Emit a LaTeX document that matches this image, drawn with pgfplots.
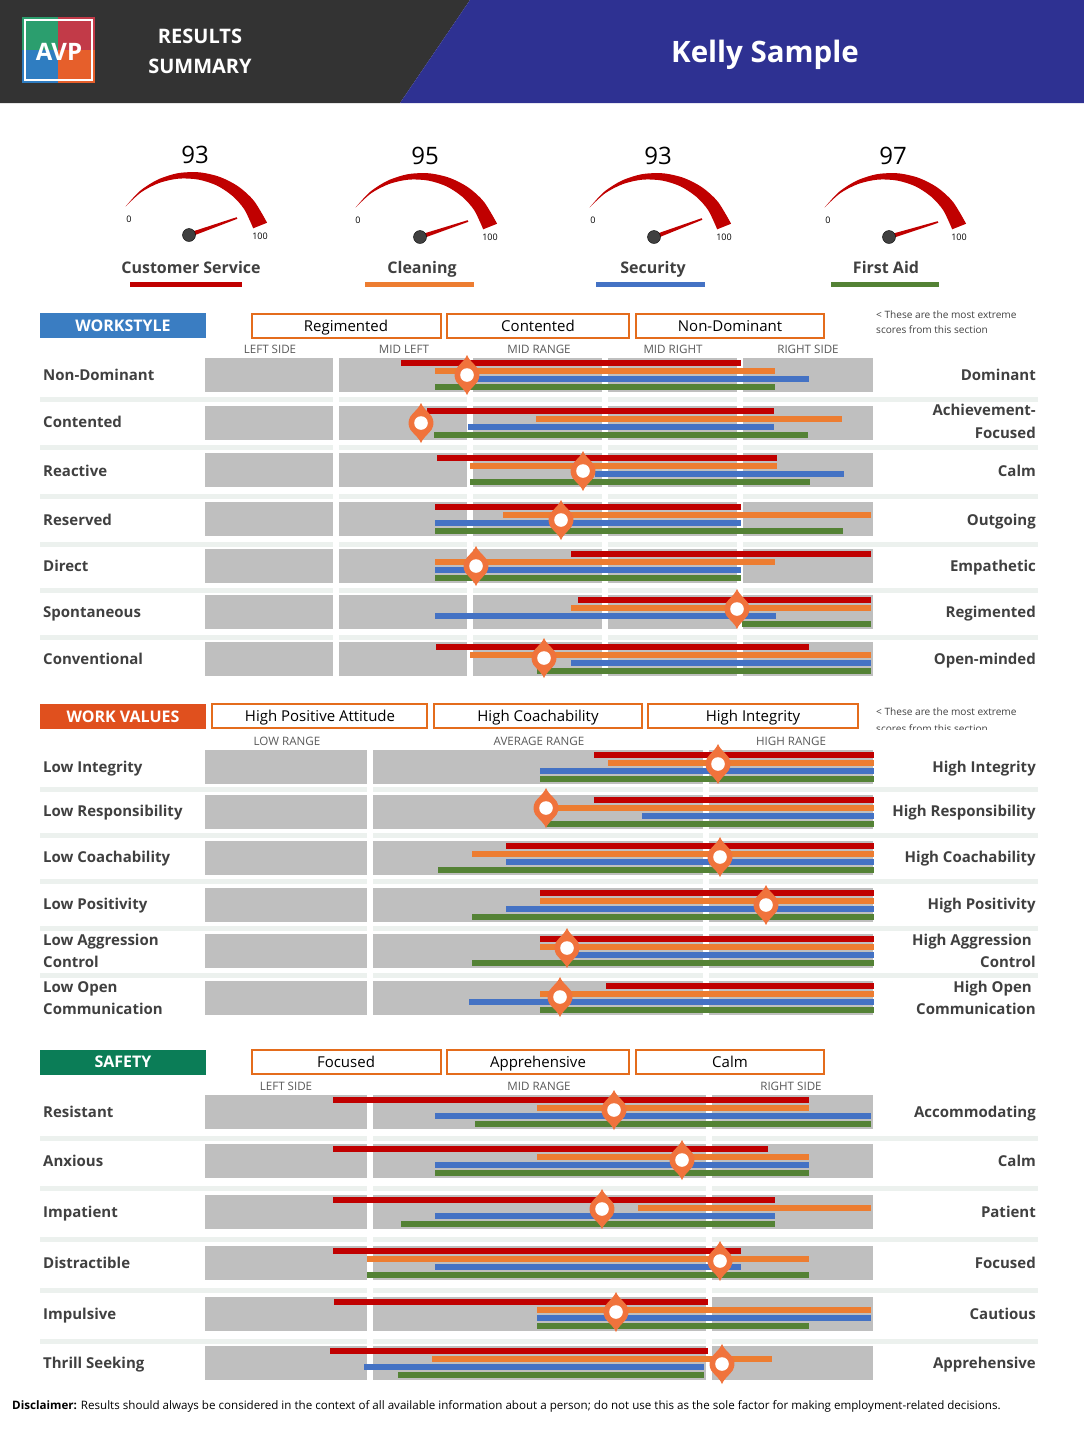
\documentclass[border=0pt]{standalone}
\usepackage{fontspec}
\setmainfont{Open Sans}
\usepackage{pgfplots}
\pgfplotsset{compat=1.18}
\usepackage{pgfplotstable}
\usepgfplotslibrary{fillbetween}
\definecolor{cR}{RGB}{192,0,0}
\definecolor{cO}{RGB}{237,125,49}
\definecolor{cB}{RGB}{68,114,196}
\definecolor{cG}{RGB}{84,130,53}
\definecolor{grayrect}{RGB}{191,191,191}
\definecolor{band}{RGB}{236,241,238}
\definecolor{pinc}{RGB}{240,115,60}
\definecolor{txt}{RGB}{64,64,64}
\definecolor{rng}{RGB}{89,89,89}
\definecolor{boxor}{RGB}{228,108,28}
\definecolor{hdr}{RGB}{51,51,51}
\definecolor{hblue}{RGB}{46,49,146}
\definecolor{secB}{RGB}{58,125,194}
\definecolor{secO}{RGB}{224,80,30}
\definecolor{secG}{RGB}{11,125,87}
\definecolor{hub}{RGB}{64,64,64}
\newcommand{\fs}[1]{\fontsize{#1bp}{#1bp}\selectfont}
\newcommand{\hb}[4]{\addplot[draw=#1, line width=6bp] coordinates {(#2,#4) (#3,#4)};}
\newcommand{\gr}[1]{\addplot[draw=grayrect, line width=34bp] coordinates {(205,#1) (873,#1)};}
\newcommand{\bd}[1]{\addplot[draw=band, line width=5bp] coordinates {(40,#1) (1038,#1)};}
\newcommand{\ws}[3]{\addplot[draw=white, line width=6bp] coordinates {(#1,#2) (#1,#3)};}
\pgfdeclareplotmark{pin}{%
  \pgfsetfillcolor{pinc}%
  \pgfpathmoveto{\pgfqpoint{0bp}{20bp}}%
  \pgfpathcurveto{\pgfqpoint{1.5bp}{16bp}}{\pgfqpoint{5bp}{13bp}}{\pgfqpoint{8.5bp}{9.2bp}}%
  \pgfpatharc{47}{-47}{12.5bp}%
  \pgfpathcurveto{\pgfqpoint{5bp}{-13bp}}{\pgfqpoint{1.5bp}{-16bp}}{\pgfqpoint{0bp}{-20bp}}%
  \pgfpathcurveto{\pgfqpoint{-1.5bp}{-16bp}}{\pgfqpoint{-5bp}{-13bp}}{\pgfqpoint{-8.5bp}{-9.2bp}}%
  \pgfpatharc{227}{133}{12.5bp}%
  \pgfpathcurveto{\pgfqpoint{-5bp}{13bp}}{\pgfqpoint{-1.5bp}{16bp}}{\pgfqpoint{0bp}{20bp}}%
  \pgfpathclose
  \pgfusepath{fill}%
  \pgfsetfillcolor{white}%
  \pgfpathcircle{\pgfpointorigin}{6.8bp}%
  \pgfusepath{fill}%
}
\newcommand{\pin}[2]{\addplot[only marks, mark=pin] coordinates {(#1,#2)};}
\tikzset{
  L/.style={anchor=base west, inner sep=0pt, yshift=-5.4bp, text=txt, font=\fs{15}\bfseries},
  R/.style={anchor=base east, inner sep=0pt, yshift=-5.4bp, text=txt, font=\fs{15}\bfseries},
  B/.style={anchor=base, inner sep=0pt, yshift=-5.4bp, font=\fs{15}},
  G/.style={anchor=base, inner sep=0pt, yshift=-4.1bp, text=rng, font=\fs{11.6}},
  S/.style={anchor=base, inner sep=0pt, yshift=-5.7bp, text=white, font=\fs{16}\bfseries},
  T/.style={anchor=base, inner sep=0pt, yshift=-5.7bp, text=txt, font=\fs{16}\bfseries},
  V/.style={anchor=base, inner sep=0pt, yshift=-8.6bp, font=\fs{24}},
  Z/.style={anchor=base, inner sep=0pt, yshift=-3.2bp, font=\fs{9}},
  N/.style={anchor=base west, inner sep=0pt, yshift=-3.6bp, font=\fs{10.1}, text=txt},
}
\pgfplotstableread{
x y
-66.4 -46.5
-52.1 -62.0
-34.2 -73.4
-14.1 -79.8
7.1 -80.7
27.7 -76.1
46.5 -66.4
62.0 -52.1
75.1 -30.3
}\gout
\pgfplotstableread{
x y
-66.4 -46.5
-50.9 -60.7
-32.7 -70.1
-13.1 -74.4
6.4 -73.4
24.6 -67.6
40.2 -57.3
52.2 -43.8
61.2 -24.7
}\gin
\begin{document}
\begin{tikzpicture}
\begin{axis}[x=1bp, y=1bp, xmin=0, xmax=1084, ymin=0, ymax=1430, y dir=reverse,
  hide axis, clip=false, anchor=origin]
% frame for bounding box
\addplot[draw=none] coordinates {(0,0) (1084,0) (1084,1430) (0,1430)} --cycle;
% header
\addplot[fill=hdr, draw=none] coordinates {(0,0) (470,0) (400,103) (0,103)} --cycle;
\addplot[fill=hblue, draw=none] coordinates {(470,0) (1084,0) (1084,103) (400,103)} --cycle;
% logo
\addplot[fill={rgb,255:red,43;green,158;blue,110}, draw=none] coordinates {(22,17) (58,17) (58,50) (22,50)} --cycle;
\addplot[fill={rgb,255:red,194;green,58;blue,72}, draw=none] coordinates {(58,17) (95,17) (95,50) (58,50)} --cycle;
\addplot[fill={rgb,255:red,47;green,125;blue,193}, draw=none] coordinates {(22,50) (58,50) (58,83) (22,83)} --cycle;
\addplot[fill={rgb,255:red,230;green,95;blue,43}, draw=none] coordinates {(58,50) (95,50) (95,83) (58,83)} --cycle;
\addplot[draw=white, line width=1.2bp] coordinates {(25,20) (92,20) (92,80) (25,80)} --cycle;
% gauges
\addplot[draw=none, smooth, name path=o1] table[x expr=\thisrow{x}+192, y expr=\thisrow{y}+253]{\gout};
\addplot[draw=none, smooth, name path=i1] table[x expr=\thisrow{x}+192, y expr=\thisrow{y}+253]{\gin};
\addplot[fill=cR, draw=none] fill between[of=o1 and i1];
\addplot[draw=none, smooth, name path=o2] table[x expr=\thisrow{x}+422, y expr=\thisrow{y}+254]{\gout};
\addplot[draw=none, smooth, name path=i2] table[x expr=\thisrow{x}+422, y expr=\thisrow{y}+254]{\gin};
\addplot[fill=cR, draw=none] fill between[of=o2 and i2];
\addplot[draw=none, smooth, name path=o3] table[x expr=\thisrow{x}+656, y expr=\thisrow{y}+254]{\gout};
\addplot[draw=none, smooth, name path=i3] table[x expr=\thisrow{x}+656, y expr=\thisrow{y}+254]{\gin};
\addplot[fill=cR, draw=none] fill between[of=o3 and i3];
\addplot[draw=none, smooth, name path=o4] table[x expr=\thisrow{x}+891, y expr=\thisrow{y}+254]{\gout};
\addplot[draw=none, smooth, name path=i4] table[x expr=\thisrow{x}+891, y expr=\thisrow{y}+254]{\gin};
\addplot[fill=cR, draw=none] fill between[of=o4 and i4];
% needles
\addplot[fill=cR, draw=none] coordinates {(189.7,237.1) (237.3,218.8) (236.7,217.2) (188.3,232.9)} --cycle;
\addplot[fill=cR, draw=none] coordinates {(420.7,239.1) (468.3,221.8) (467.7,220.2) (419.3,234.9)} --cycle;
\addplot[fill=cR, draw=none] coordinates {(654.7,239.1) (702.3,219.8) (701.7,218.2) (653.3,234.9)} --cycle;
\addplot[fill=cR, draw=none] coordinates {(889.7,239.1) (938.3,222.8) (937.7,221.2) (888.3,234.9)} --cycle;
\addplot[only marks, mark=*, mark size=6.5bp, mark options={fill=hub, draw=none}] coordinates {(189,235) (420,237) (654,237) (889,237)};
% gauge underlines
\addplot[draw=cR, line width=5bp] coordinates {(130,284) (242,284)};
\addplot[draw=cO, line width=5bp] coordinates {(365,284) (474,284)};
\addplot[draw=cB, line width=5bp] coordinates {(596,284) (705,284)};
\addplot[draw=cG, line width=5bp] coordinates {(831,284) (939,284)};
% section boxes
\addplot[fill=secB, draw=none] coordinates {(40,313) (206,313) (206,338) (40,338)} --cycle;
\addplot[fill=secO, draw=none] coordinates {(40,704) (206,704) (206,729) (40,729)} --cycle;
\addplot[fill=secG, draw=none] coordinates {(40,1050) (206,1050) (206,1075) (40,1075)} --cycle;
\addplot[draw=boxor, line width=2bp] coordinates {(252,314) (441,314) (441,338) (252,338)} --cycle;
\addplot[draw=boxor, line width=2bp] coordinates {(447,314) (629,314) (629,338) (447,338)} --cycle;
\addplot[draw=boxor, line width=2bp] coordinates {(636,314) (824,314) (824,338) (636,338)} --cycle;
\addplot[draw=boxor, line width=2bp] coordinates {(212,704) (427,704) (427,728) (212,728)} --cycle;
\addplot[draw=boxor, line width=2bp] coordinates {(434,704) (642,704) (642,728) (434,728)} --cycle;
\addplot[draw=boxor, line width=2bp] coordinates {(648,704) (858,704) (858,728) (648,728)} --cycle;
\addplot[draw=boxor, line width=2bp] coordinates {(252,1050) (441,1050) (441,1074) (252,1074)} --cycle;
\addplot[draw=boxor, line width=2bp] coordinates {(447,1050) (629,1050) (629,1074) (447,1074)} --cycle;
\addplot[draw=boxor, line width=2bp] coordinates {(636,1050) (824,1050) (824,1074) (636,1074)} --cycle;
% ===== WORKSTYLE backgrounds
\bd{399}\bd{447}\bd{496}\bd{544}\bd{590}\bd{637}
\gr{375}\gr{423}\gr{470}\gr{519}\gr{566}\gr{612}\gr{659}
\ws{336}{355}{679}\ws{470}{355}{679}\ws{605}{355}{679}\ws{739.5}{355}{679}
% bars
\hb{cR}{401}{741}{363}\hb{cO}{435}{775}{371}\hb{cB}{470}{809}{379}\hb{cG}{435}{775}{387}
\hb{cR}{427}{774}{411}\hb{cO}{536}{842}{419}\hb{cB}{468}{774}{427}\hb{cG}{434}{808}{435}
\hb{cR}{437}{777}{458}\hb{cO}{470}{777}{466}\hb{cB}{595}{844}{474}\hb{cG}{470}{810}{482}
\hb{cR}{435}{741}{507}\hb{cO}{503}{871}{515}\hb{cB}{435}{741}{523}\hb{cG}{435}{843}{531}
\hb{cR}{571}{871}{554}\hb{cO}{435}{775}{562}\hb{cB}{435}{741}{570}\hb{cG}{435}{741}{578}
\hb{cR}{578}{871}{600}\hb{cO}{571}{871}{608}\hb{cB}{435}{776}{616}\hb{cG}{742}{871}{624}
\hb{cR}{436}{809}{647}\hb{cO}{470}{871}{655}\hb{cB}{571}{871}{663}\hb{cG}{537}{871}{671}
% ===== WORK VALUES
\bd{789}\bd{835}\bd{881}\bd{928}\bd{975}
\gr{767}\gr{812}\gr{858}\gr{905}\gr{951}\gr{998}
\ws{370}{747}{1017}\ws{705.5}{747}{1017}
\hb{cR}{594}{874}{755}\hb{cO}{608}{874}{763}\hb{cB}{540}{874}{771}\hb{cG}{540}{874}{779}
\hb{cR}{594}{874}{800}\hb{cO}{546}{874}{808}\hb{cB}{642}{874}{816}\hb{cG}{546}{874}{824}
\hb{cR}{506}{874}{846}\hb{cO}{472}{874}{854}\hb{cB}{506}{874}{862}\hb{cG}{438}{874}{870}
\hb{cR}{540}{874}{893}\hb{cO}{540}{874}{901}\hb{cB}{506}{874}{909}\hb{cG}{472}{874}{917}
\hb{cR}{540}{874}{939}\hb{cO}{540}{874}{947}\hb{cB}{574}{874}{955}\hb{cG}{472}{874}{963}
\hb{cR}{606}{874}{986}\hb{cO}{540}{874}{994}\hb{cB}{469}{874}{1002}\hb{cG}{540}{874}{1010}
% ===== SAFETY
\bd{1138}\bd{1188}\bd{1239}\bd{1290}\bd{1341}
\gr{1112}\gr{1161}\gr{1212}\gr{1263}\gr{1314}\gr{1363}
\ws{370}{1092}{1382}\ws{708.5}{1092}{1382}
\hb{cR}{333}{809}{1100}\hb{cO}{537}{809}{1108}\hb{cB}{435}{871}{1116}\hb{cG}{475}{871}{1124}
\hb{cR}{333}{768}{1149}\hb{cO}{537}{809}{1157}\hb{cB}{435}{809}{1165}\hb{cG}{435}{809}{1173}
\hb{cR}{333}{775}{1200}\hb{cO}{638}{871}{1208}\hb{cB}{435}{775}{1216}\hb{cG}{401}{775}{1224}
\hb{cR}{333}{741}{1251}\hb{cO}{367}{809}{1259}\hb{cB}{435}{741}{1267}\hb{cG}{367}{809}{1275}
\hb{cR}{334}{708}{1302}\hb{cO}{537}{871}{1310}\hb{cB}{537}{871}{1318}\hb{cG}{537}{809}{1326}
\hb{cR}{330}{708}{1351}\hb{cO}{432}{772}{1359}\hb{cB}{364}{704}{1367}\hb{cG}{398}{704}{1375}
% pins
\pin{467}{375}\pin{421}{423}\pin{583}{471}\pin{561}{520}\pin{476}{566}\pin{737}{609}\pin{544}{658}
\pin{718}{764}\pin{546}{808}\pin{720}{857}\pin{766}{905}\pin{567}{948}\pin{560}{997}
\pin{614}{1110}\pin{682}{1160}\pin{602}{1209}\pin{720}{1261}\pin{616}{1312}\pin{722}{1364}
% ===== TEXT
\node[anchor=base, inner sep=0pt, yshift=-8.6bp, text=white, font=\fs{24}\bfseries] at (axis cs:59,52) {AVP};
\node[anchor=base, inner sep=0pt, yshift=-7.1bp, text=white, font=\fs{20}\bfseries] at (axis cs:200,36) {RESULTS};
\node[anchor=base, inner sep=0pt, yshift=-7.1bp, text=white, font=\fs{20}\bfseries] at (axis cs:200,66) {SUMMARY};
\node[anchor=base, inner sep=0pt, yshift=-10.5bp, text=white, font=\fs{29.5}\bfseries] at (axis cs:765,52) {Kelly Sample};
\node[V] at (axis cs:195,155) {93};
\node[V] at (axis cs:425,156) {95};
\node[V] at (axis cs:658,156) {93};
\node[V] at (axis cs:893,156) {97};
\node[Z] at (axis cs:129,219) {0};
\node[Z] at (axis cs:260,236) {100};
\node[Z] at (axis cs:358,220) {0};
\node[Z] at (axis cs:490,237) {100};
\node[Z] at (axis cs:593,220) {0};
\node[Z] at (axis cs:724,237) {100};
\node[Z] at (axis cs:828,220) {0};
\node[Z] at (axis cs:959,237) {100};
\node[T] at (axis cs:191,268) {Customer Service};
\node[T] at (axis cs:422,268) {Cleaning};
\node[T] at (axis cs:653,268) {Security};
\node[T] at (axis cs:886,268) {First Aid};
% section headers
\node[S] at (axis cs:123,326) {WORKSTYLE};
\node[S] at (axis cs:123,717) {WORK VALUES};
\node[S] at (axis cs:123,1062) {SAFETY};
\node[B] at (axis cs:346,326) {Regimented};
\node[B] at (axis cs:538,326) {Contented};
\node[B] at (axis cs:730,326) {Non-Dominant};
\node[B] at (axis cs:320,716) {High Positive Attitude};
\node[B] at (axis cs:538,716) {High Coachability};
\node[B] at (axis cs:753,716) {High Integrity};
\node[B] at (axis cs:346,1062) {Focused};
\node[B] at (axis cs:538,1062) {Apprehensive};
\node[B] at (axis cs:730,1062) {Calm};
\node[G] at (axis cs:270,349) {LEFT SIDE};
\node[G] at (axis cs:404,349) {MID LEFT};
\node[G] at (axis cs:539,349) {MID RANGE};
\node[G] at (axis cs:673,349) {MID RIGHT};
\node[G] at (axis cs:808,349) {RIGHT SIDE};
\node[G] at (axis cs:287,741) {LOW RANGE};
\node[G] at (axis cs:539,741) {AVERAGE RANGE};
\node[G] at (axis cs:791,741) {HIGH RANGE};
\node[G] at (axis cs:286,1086) {LEFT SIDE};
\node[G] at (axis cs:539,1086) {MID RANGE};
\node[G] at (axis cs:791,1086) {RIGHT SIDE};
\node[N] at (axis cs:876,315) {< These are the most extreme};
\node[N] at (axis cs:876,330) {scores from this section};
\node[N] at (axis cs:876,712) {< These are the most extreme};
\node[N] at (axis cs:876,729) {scores from this section};
\addplot[fill=white, draw=none] coordinates {(870,730) (1020,730) (1020,737) (870,737)} --cycle;
% left labels
\node[L] at (axis cs:43,375) {Non-Dominant};
\node[L] at (axis cs:43,422) {Contented};
\node[L] at (axis cs:43,471) {Reactive};
\node[L] at (axis cs:43,520) {Reserved};
\node[L] at (axis cs:43,566) {Direct};
\node[L] at (axis cs:43,612) {Spontaneous};
\node[L] at (axis cs:43,659) {Conventional};
\node[L] at (axis cs:43,767) {Low Integrity};
\node[L] at (axis cs:43,811) {Low Responsibility};
\node[L] at (axis cs:43,857) {Low Coachability};
\node[L] at (axis cs:43,904) {Low Positivity};
\node[L] at (axis cs:43,940) {Low Aggression};
\node[L] at (axis cs:43,962) {Control};
\node[L] at (axis cs:43,987) {Low Open};
\node[L] at (axis cs:43,1009) {Communication};
\node[L] at (axis cs:43,1112) {Resistant};
\node[L] at (axis cs:43,1161) {Anxious};
\node[L] at (axis cs:43,1212) {Impatient};
\node[L] at (axis cs:43,1263) {Distractible};
\node[L] at (axis cs:43,1314) {Impulsive};
\node[L] at (axis cs:43,1363) {Thrill Seeking};
% right labels
\node[R] at (axis cs:1036,375) {Dominant};
\node[R] at (axis cs:1036,410) {Achievement-};
\node[R] at (axis cs:1036,433) {Focused};
\node[R] at (axis cs:1036,471) {Calm};
\node[R] at (axis cs:1036,520) {Outgoing};
\node[R] at (axis cs:1036,566) {Empathetic};
\node[R] at (axis cs:1036,612) {Regimented};
\node[R] at (axis cs:1036,659) {Open-minded};
\node[R] at (axis cs:1036,767) {High Integrity};
\node[R] at (axis cs:1036,811) {High Responsibility};
\node[R] at (axis cs:1036,857) {High Coachability};
\node[R] at (axis cs:1036,904) {High Positivity};
\node[R] at (axis cs:1032,940) {High Aggression};
\node[R] at (axis cs:1036,962) {Control};
\node[R] at (axis cs:1032,987) {High Open};
\node[R] at (axis cs:1036,1009) {Communication};
\node[R] at (axis cs:1036,1112) {Accommodating};
\node[R] at (axis cs:1036,1161) {Calm};
\node[R] at (axis cs:1036,1212) {Patient};
\node[R] at (axis cs:1036,1263) {Focused};
\node[R] at (axis cs:1036,1314) {Cautious};
\node[R] at (axis cs:1036,1363) {Apprehensive};
% disclaimer
\node[anchor=base west, inner sep=0pt, yshift=-4.1bp, font=\fs{11.6}] at (axis cs:12,1405) {\textbf{Disclaimer:} Results should always be considered in the context of all available information about a person; do not use this as the sole factor for making employment-related decisions.};
\end{axis}
\end{tikzpicture}
\end{document}
